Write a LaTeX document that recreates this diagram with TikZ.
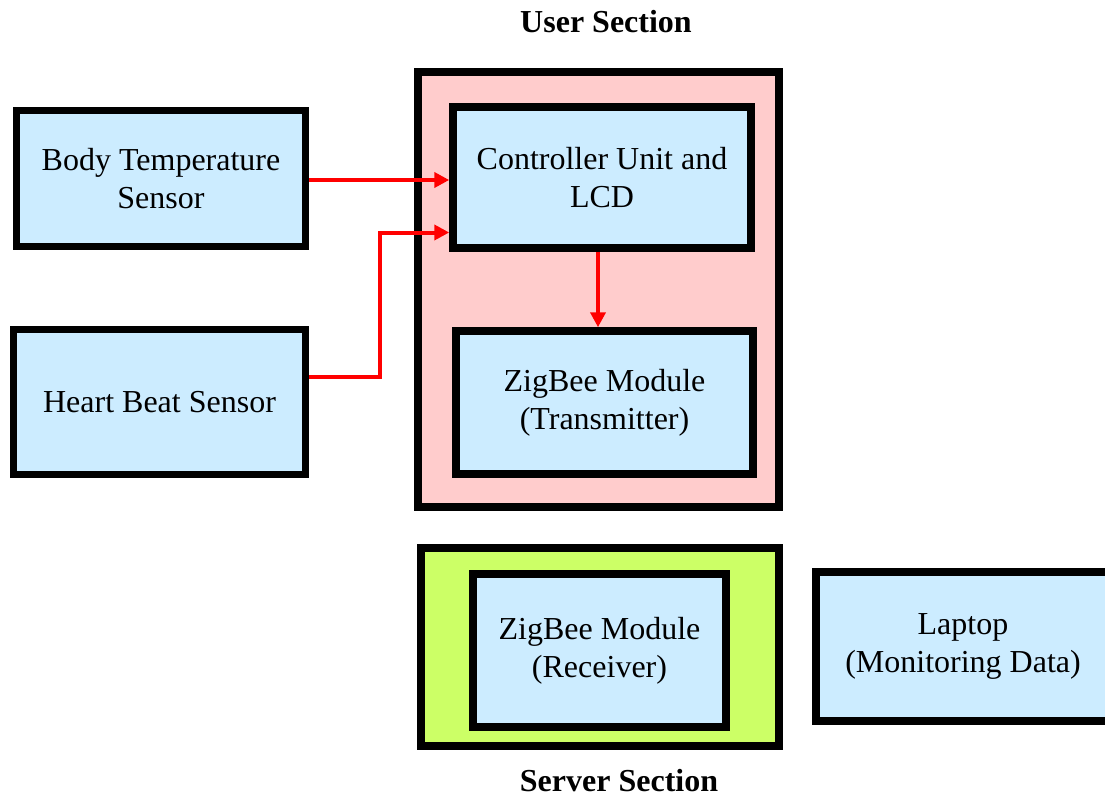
\documentclass[tikz,border=0pt]{standalone}
\usepackage{fontspec}
\setmainfont{Liberation Serif}
\usepackage{tikz}
\usetikzlibrary{arrows.meta, positioning, calc}

\definecolor{boxblue}{RGB}{204,236,255}
\definecolor{userpink}{RGB}{255,204,204}
\definecolor{servergreen}{RGB}{204,255,102}

\begin{document}
\begin{tikzpicture}[x=1pt, y=-1pt,
  block/.style={draw, line width=7.5pt, fill=boxblue, align=center, inner sep=0pt,
    font=\fontsize{32}{38}\selectfont},
  section/.style={draw, line width=8pt, inner sep=0pt},
  link/.style={red, line width=4pt, -{Triangle[length=15pt,width=15pt]}},
  title/.style={font=\fontsize{32}{38}\selectfont\bfseries, inner sep=0pt}]
\useasboundingbox (0,0) rectangle (1105,797);

% User side
\node[title] (usertitle) at (606,22) {User Section};
\node[section, fill=userpink, minimum width=361pt, minimum height=435pt] (user) at (598.5,289.5) {};
\node[block, minimum width=289pt, minimum height=136pt] (bts) at (161,178.5) {Body Temperature\\Sensor};
\node[block, minimum width=292pt, minimum height=145pt] (hbs) at (159.5,402) {Heart Beat Sensor};
\node[block, minimum width=298pt, minimum height=141pt] (ctrl) at (602,177.5) {Controller Unit and\\LCD};
\node[block, minimum width=297pt, minimum height=143pt] (ztx) at (604.5,402.5) {ZigBee Module\\(Transmitter)};

% Server side
\node[section, fill=servergreen, minimum width=358pt, minimum height=198pt] (server) at (600,647) {};
\node[block, minimum width=253pt, minimum height=153pt] (zrx) at (599.5,650.5) {ZigBee Module\\(Receiver)};
\node[block, minimum width=294pt, minimum height=149pt] (laptop) at (963,646.5) {Laptop\\(Monitoring Data)};
\node[title] (servertitle) at (619,781) {Server Section};

% Sensor links
\coordinate (ctrlin) at ([yshift=-55pt]ctrl.west);
\coordinate (hbsout) at ([yshift=25pt]hbs.east);
\draw[link] ([yshift=-1.5pt]bts.east) -- ([yshift=-1.5pt]bts.east -| ctrl.west);
\draw[link] (hbsout) -- ++(71,0) |- (ctrlin);
\draw[link] ([xshift=-4pt]ctrl.south) -- ([xshift=-4pt]ctrl.south |- ztx.north);
\end{tikzpicture}
\end{document}
